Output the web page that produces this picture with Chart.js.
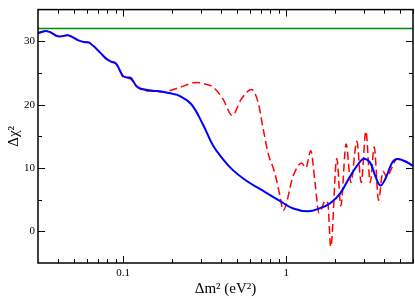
<!DOCTYPE html>
<html>
<head>
<meta charset="utf-8">
<script src="https://cdn.jsdelivr.net/npm/chart.js@4/dist/chart.umd.min.js"></script>
<style>
  html, body { margin: 0; padding: 0; background: #fff; }
  #wrap { width: 415px; height: 299px; }
</style>
</head>
<body>
<div id="wrap"><canvas id="myChart" width="415" height="299"></canvas></div>
<script>
// delta m^2 (eV^2) and delta chi^2
var blueX = [0.03, 0.0342, 0.0403, 0.0458, 0.0536, 0.0589, 0.0617, 0.0711, 0.0782, 0.084, 0.0902, 0.0945,
  0.1, 0.106, 0.1116, 0.12, 0.1285, 0.151, 0.1746, 0.201, 0.221, 0.261, 0.308, 0.355, 0.409, 0.471, 0.57,
  0.689, 0.914, 1.104, 1.37, 1.613, 1.86, 2.14, 2.47, 2.84, 3.01, 3.28, 3.52, 3.78, 4.05, 4.46,
  4.79, 5.52, 6.0]
var blueY = [31.3, 31.6, 30.75, 30.95, 30.1, 29.85, 29.8, 28.4, 27.3, 26.8, 26.5, 25.6,
  24.5, 24.3, 24.2, 23.0, 22.5, 22.2, 22.05, 21.7, 21.4, 20.1, 16.9, 13.6, 11.4, 9.66, 7.98,
  6.7, 4.8, 3.6, 3.16, 3.66, 4.42, 5.95, 8.7, 11.0, 11.45, 10.8, 8.75, 7.23, 8.23, 10.8,
  11.4, 10.9, 10.3]

var redX = [0.03, 0.0342, 0.0403, 0.0458, 0.0536, 0.0589, 0.0617, 0.0711, 0.0782, 0.084, 0.0902, 0.0945,
  0.1, 0.106, 0.1116, 0.12, 0.1285, 0.151, 0.1746, 0.221, 0.281, 0.324, 0.355, 0.409, 0.467, 0.531,
  0.612, 0.672, 0.72, 0.775, 0.851, 0.914, 0.958, 1.104, 1.244, 1.32, 1.416, 1.503, 1.591, 1.74, 1.80,
  1.878, 2.045, 2.164, 2.333, 2.494, 2.715, 2.886, 3.085, 3.279, 3.47, 3.688, 3.925, 4.155, 4.354,
  4.788, 5.52, 6.0]
var redY = [31.3, 31.6, 30.75, 30.95, 30.1, 29.85, 29.8, 28.4, 27.3, 26.8, 26.5, 25.6,
  24.3, 24.2, 24.0, 22.9, 22.4, 22.1, 22.0, 22.7, 23.5, 23.2, 22.8, 20.9, 18.3, 20.9,
  22.4, 20.4, 16.4, 12.3, 9.25, 5.7, 3.3, 8.75, 10.8, 10.0, 12.7, 7.7, 2.9, 4.8, 4.5,
  -2.44, 11.5, 4.0, 13.8, 7.7, 14.2, 7.7, 15.8, 7.7, 13.3, 4.9, 9.5, 8.5, 9.5,
  11.4, 10.9, 10.3]

var greenX = [0.03, 6.0]
var greenY = [32, 32]

var xTicks = [0.1, 1]
var xTickText = ['0.1', '1']
var xMinor = [0.04, 0.05, 0.06, 0.07, 0.08, 0.09, 0.2, 0.3, 0.4, 0.5, 0.6, 0.7, 0.8, 0.9, 2, 3, 4, 5, 6]
var yTicks = [0, 10, 20, 30]
var yMinor = [5, 15, 25]

function points(xs, ys) {
  return xs.map((x, i) => ({ x: x, y: ys[i] }))
}

var serif = 'Liberation Serif'

// box round the plot and inward tick marks on all four sides
var frame = {
  id: 'frame',
  afterDatasetsDraw(chart) {
    var ctx = chart.ctx
    var a = chart.chartArea
    var sx = chart.scales.x
    var sy = chart.scales.y
    ctx.save()
    ctx.strokeStyle = '#000'
    ctx.lineWidth = 1
    ctx.beginPath()
    var tick = (v, len, horiz) => {
      if (horiz) {
        var px = Math.round(sx.getPixelForValue(v)) + 0.5
        ctx.moveTo(px, a.bottom); ctx.lineTo(px, a.bottom - len)
        ctx.moveTo(px, a.top); ctx.lineTo(px, a.top + len)
      } else {
        var py = Math.round(sy.getPixelForValue(v)) + 0.5
        ctx.moveTo(a.left, py); ctx.lineTo(a.left + len, py)
        ctx.moveTo(a.right, py); ctx.lineTo(a.right - len, py)
      }
    }
    xTicks.forEach(v => tick(v, 7, true))
    xMinor.forEach(v => tick(v, 4, true))
    yTicks.forEach(v => tick(v, 7, false))
    yMinor.forEach(v => tick(v, 4, false))
    ctx.stroke()
    ctx.lineWidth = 1.5
    ctx.strokeRect(a.left, a.top, a.right - a.left, a.bottom - a.top)
    ctx.restore()
  }
}

var ctx = document.getElementById('myChart').getContext('2d')
var chart = new Chart(ctx, {
  type: 'scatter',
  data: {
    datasets: [{
      data: points(blueX, blueY),
      borderColor: '#0000ff',
      borderWidth: 2,
      showLine: true,
      pointRadius: 0,
      tension: 0.4
    }, {
      data: points(redX, redY),
      borderColor: '#ff0000',
      borderWidth: 1.5,
      borderDash: [8, 4],
      showLine: true,
      pointRadius: 0,
      cubicInterpolationMode: 'monotone'
    }, {
      data: points(greenX, greenY),
      borderColor: 'rgb(0,140,0)',
      borderWidth: 1.5,
      showLine: true,
      pointRadius: 0
    }]
  },
  options: {
    responsive: false,
    animation: false,
    events: [],
    layout: { padding: { top: 2, right: 2, left: 0, bottom: 0 } },
    plugins: { legend: { display: false }, tooltip: { enabled: false } },
    scales: {
      x: {
        type: 'logarithmic',
        min: 0.03,
        max: 6,
        grid: { display: false, drawTicks: false },
        border: { display: false },
        afterBuildTicks: s => { s.ticks = xTicks.map(v => ({ value: v })) },
        afterFit: s => { s.height = 36 },
        ticks: {
          autoSkip: false,
          maxRotation: 0,
          padding: 4,
          color: '#000',
          font: { family: serif, size: 11 },
          callback: (v, i) => xTickText[i]
        },
        title: {
          display: true,
          text: 'Δm² (eV²)',
          color: '#000',
          font: { family: serif, size: 15 },
          padding: { top: 0, bottom: 1 }
        }
      },
      y: {
        min: -5,
        max: 35,
        grid: { display: false, drawTicks: false },
        border: { display: false },
        afterBuildTicks: s => { s.ticks = yTicks.map(v => ({ value: v })) },
        afterFit: s => { s.width = 38 },
        ticks: {
          padding: 3,
          color: '#000',
          font: { family: serif, size: 11 }
        },
        title: {
          display: true,
          text: 'Δχ²',
          color: '#000',
          font: { family: serif, size: 15 },
          padding: { top: 5, bottom: 0 }
        }
      }
    }
  },
  plugins: [frame]
})
</script>
</body>
</html>
